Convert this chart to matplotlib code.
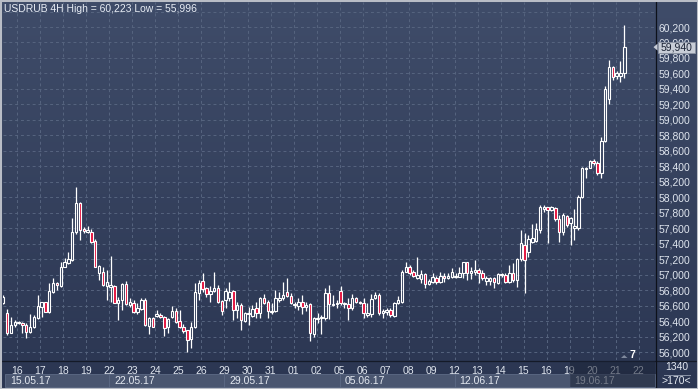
import numpy as np
import matplotlib
matplotlib.use('Agg')
import matplotlib.pyplot as plt
from matplotlib.patches import Rectangle, Polygon
from matplotlib.lines import Line2D
from matplotlib.transforms import blended_transform_factory

plt.rcParams['font.family'] = ['Liberation Sans', 'DejaVu Sans']

# ---- data (USDRUB, 4H candles, 15.05.17 - 21.06.17) ----
opens = [56629, 56500, 56242, 56349, 56371, 56379, 56349, 56255, 56328, 56435,
         56586, 56642, 56522, 56780, 56888, 56853, 57103, 57146, 57189, 57555,
         57921, 57585, 57555, 57555, 57439, 57025, 57038, 56853, 56845, 56858,
         56629, 56672, 56875, 56612, 56629, 56522, 56552, 56672, 56341, 56435,
         56470, 56479, 56457, 56319, 56448, 56534, 56401, 56328, 56285, 56164,
         56328, 56767, 56918, 56823, 56746, 56789, 56823, 56660, 56673, 56694,
         56789, 56543, 56608, 56401, 56487, 56466, 56565, 56500, 56694, 56642,
         56522, 56530, 56673, 56694, 56772, 56729, 56608, 56599, 56642, 56586,
         56617, 56229, 56423, 56436, 56436, 56759, 56608, 56617, 56789, 56617,
         56617, 56565, 56694, 56629, 56629, 56479, 56487, 56694, 56737, 56500,
         56513, 56543, 56466, 56638, 56651, 57039, 57095, 57030, 56952, 56940,
         57009, 56875, 56905, 56952, 56909, 56983, 56952, 56974, 56965, 56974,
         57017, 57159, 57017, 57039, 57060, 57026, 56922, 56922, 56952, 56897,
         56996, 56996, 56909, 57017, 56931, 57198, 57380, 57297, 57427, 57440,
         57577, 57853, 57870, 57836, 57857, 57715, 57556, 57758, 57663, 57599,
         57599, 57999, 58361, 58374, 58473, 58447, 58318, 58727, 59270, 59688,
         59567, 59567, 59610]
highs = [56737, 56552, 56457, 56414, 56405, 56392, 56371, 56491, 56479, 56737,
         56651, 56651, 56888, 56952, 56909, 57168, 57211, 57297, 57727, 58137,
         57943, 57620, 57628, 57585, 57460, 57125, 57103, 57060, 57241, 56866,
         56715, 56888, 56918, 56694, 56672, 56629, 56694, 56694, 56457, 56457,
         56543, 56500, 56466, 56435, 56595, 56565, 56543, 56362, 56285, 56392,
         56888, 56931, 57017, 56845, 56858, 57039, 56866, 56673, 56823, 56909,
         56802, 56651, 56629, 56522, 56586, 56608, 56651, 56716, 56746, 56673,
         56629, 56802, 56772, 56909, 56953, 56759, 56651, 56694, 56737, 56651,
         56629, 56457, 56500, 56479, 56832, 56866, 56737, 56673, 56858, 56651,
         56703, 56746, 56716, 56660, 56694, 56629, 56746, 56772, 56759, 56556,
         56565, 56574, 56651, 56724, 57060, 57168, 57125, 57060, 57224, 57060,
         57026, 56940, 57017, 56983, 57039, 57017, 57026, 57082, 57017, 57103,
         57159, 57168, 57103, 57189, 57082, 57060, 56983, 56965, 56974, 57017,
         57017, 57017, 57125, 57146, 57211, 57577, 57543, 57513, 57655, 57672,
         57900, 57900, 57879, 57887, 57879, 57771, 57793, 57771, 57749, 57844,
         58029, 58387, 58395, 58482, 58490, 58473, 58783, 59438, 59774, 59696,
         59632, 59761, 60223]
lows = [56621, 56220, 56242, 56328, 56362, 56250, 56186, 56242, 56315, 56422,
        56457, 56522, 56509, 56767, 56801, 56845, 57094, 57137, 57180, 57525,
        57448, 57534, 57534, 57413, 57094, 56931, 56853, 56672, 56651, 56629,
        56414, 56543, 56608, 56586, 56500, 56491, 56543, 56336, 56229, 56328,
        56457, 56435, 56207, 56250, 56435, 56379, 56306, 56242, 55996, 56048,
        56306, 56672, 56780, 56716, 56651, 56780, 56629, 56479, 56565, 56660,
        56414, 56436, 56285, 56393, 56350, 56457, 56436, 56436, 56617, 56436,
        56487, 56513, 56651, 56673, 56716, 56617, 56574, 56543, 56487, 56530,
        56143, 56199, 56371, 56229, 56414, 56427, 56599, 56574, 56608, 56565,
        56414, 56543, 56629, 56617, 56436, 56457, 56457, 56686, 56479, 56436,
        56479, 56448, 56448, 56621, 56629, 57030, 56996, 56974, 56940, 56888,
        56823, 56866, 56888, 56879, 56888, 56909, 56940, 56952, 56952, 56965,
        56952, 56931, 56940, 56996, 56888, 56931, 56866, 56866, 56823, 56879,
        56974, 56888, 56897, 56909, 56845, 57181, 56768, 57233, 57405, 57427,
        57534, 57814, 57414, 57823, 57698, 57427, 57513, 57612, 57383, 57448,
        57577, 57986, 58245, 58374, 58417, 58288, 58245, 58710, 59201, 59515,
        59524, 59494, 59545]
closes = [56715, 56242, 56349, 56392, 56392, 56345, 56263, 56328, 56457, 56595,
          56642, 56522, 56789, 56888, 56862, 57103, 57159, 57198, 57555, 57921,
          57577, 57564, 57577, 57426, 57103, 57112, 56866, 56901, 56866, 56638,
          56672, 56875, 56616, 56642, 56522, 56565, 56672, 56349, 56435, 56328,
          56487, 56448, 56315, 56427, 56534, 56392, 56319, 56276, 56155, 56328,
          56780, 56896, 56810, 56746, 56789, 56832, 56651, 56530, 56789, 56780,
          56543, 56608, 56414, 56500, 56500, 56556, 56500, 56694, 56629, 56530,
          56530, 56694, 56703, 56737, 56729, 56629, 56617, 56651, 56586, 56608,
          56242, 56436, 56436, 56457, 56759, 56617, 56617, 56638, 56629, 56629,
          56565, 56703, 56651, 56651, 56500, 56500, 56681, 56737, 56500, 56530,
          56543, 56479, 56629, 56672, 57039, 57095, 57026, 56983, 56996, 57009,
          56879, 56918, 56965, 56909, 56983, 56952, 56983, 57039, 56983, 57026,
          57159, 57017, 57047, 57060, 57017, 56952, 56952, 56952, 56909, 57009,
          57009, 56909, 57017, 56931, 57198, 57405, 57190, 57457, 57470, 57586,
          57870, 57870, 57836, 57870, 57715, 57556, 57771, 57642, 57728, 57629,
          57999, 58374, 58374, 58473, 58439, 58318, 58727, 59399, 59679, 59558,
          59601, 59610, 59940]

day_labels = ['16', '17', '18', '19', '22', '23', '24', '25', '26', '29', '30', '31',
              '01', '02', '05', '06', '07', '08', '09', '12', '13', '14', '15', '16',
              '19', '20', '21', '22']
week_labels = ['15.05.17', '22.05.17', '29.05.17', '05.06.17', '12.06.17', '19.06.17']
price_ticks = list(range(56000, 60201, 200))
title = 'USDRUB 4H High = 60,223 Low = 55,996'
last_price = 59940
bar_count = '1340'
bars_shown = '>170<'

# ---- figure ----
W, H = 698, 389
fig = plt.figure(figsize=(W / 100, H / 100), dpi=100)
fig.patch.set_facecolor('#2f3a56')


def fx(x):
    return x / W


def fy(y):
    return 1 - y / H


# gradient background for the whole window
bg = fig.add_axes([0, 0, 1, 1], zorder=-5)
top_c = np.array([0x3f, 0x4c, 0x69]) / 255
bot_c = np.array([0x2b, 0x36, 0x52]) / 255
t = np.linspace(0, 1, 256)[:, None]
grad = (top_c * (1 - t) + bot_c * t)[:, None, :]
bg.imshow(grad, aspect='auto', extent=[0, 1, 0, 1], transform=bg.transAxes)
bg.set_axis_off()

ax = fig.add_axes([fx(3), fy(360), (655 - 3) / W, (360 - 2) / H])
ax.set_facecolor('none')

n = len(opens)
x = np.arange(1, n + 1) + 1.0       # candle positions, one unit per 4H bar
o = np.array(opens); h = np.array(highs); l = np.array(lows); c = np.array(closes)
up = c >= o
top = np.maximum(o, c); bot = np.minimum(o, c)

# grid
day_pos = [6 * (d + 1) - 0.3 for d in range(len(day_labels))]
for yv in price_ticks + [60400]:
    ax.axhline(yv, color='#56647f', lw=0.7, ls=(0, (3, 3)), zorder=1)
for xv in day_pos:
    ax.axvline(xv, color='#56647f', lw=0.7, ls=(0, (3, 3)), zorder=1)

# candles
ax.vlines(x, top, h, color='white', lw=0.9, zorder=3)
ax.vlines(x, l, bot, color='white', lw=0.9, zorder=3)
body = np.maximum(top - bot, 6)
ax.bar(x[up], body[up], bottom=bot[up], width=0.62, facecolor='none',
       edgecolor='white', lw=0.8, zorder=4)
ax.bar(x[~up], body[~up], bottom=bot[~up], width=0.62, facecolor='#e3103c',
       edgecolor='white', lw=0.8, zorder=4)

ax.set_xlim(1.92, 172.0)
ax.set_ylim(55898, 60523)

ax.yaxis.tick_right()
ax.set_yticks(price_ticks, [f'{v:,}' for v in price_ticks])
ax.set_xticks(day_pos, day_labels)
ax.tick_params(axis='both', length=0, colors='#dfe5ee', labelsize=7.5)
ax.tick_params(axis='y', pad=2.6)
ax.tick_params(axis='x', pad=4.2)
for s in ax.spines.values():
    s.set_visible(False)

# title
fig.text(fx(4), fy(8.5), title, ha='left', va='center', fontsize=7.5, color='#e8edf5')

# separators
fig.add_artist(Line2D([fx(0), fx(698)], [fy(360.5), fy(360.5)], color='#141a28', lw=0.9))
fig.add_artist(Line2D([fx(655.5), fx(655.5)], [fy(0), fy(387)], color='#0d111a', lw=0.9))

# week boxes under the day labels
bt = blended_transform_factory(ax.transData, fig.transFigure)
week_starts = [2.4] + [6 * d - 0.3 for d in (5, 10, 15, 20, 25)]
week_ends = week_starts[1:] + [172.0]
for ws, we, lab in zip(week_starts, week_ends, week_labels):
    fig.add_artist(Rectangle((ws, fy(387)), we - ws, (387 - 374) / H, transform=bt,
                             facecolor='#4a5670', edgecolor='#5d6a85', lw=0.6, zorder=1))
    fig.text(0, fy(380.5), lab, transform=bt + matplotlib.transforms.ScaledTranslation(5 / 100, 0, fig.dpi_scale_trans),
             ha='left', va='center', fontsize=7.5, color='#e3e8f0', zorder=2)
    fig.texts[-1].set_x(ws)

# darker area for the current week on the time axis
fig.add_artist(Rectangle((week_starts[-1], fy(387)), 172.0 - week_starts[-1], (387 - 361) / H,
                         transform=bt, facecolor='#1b2336', alpha=0.55, lw=0, zorder=3))

# last price tag
pt = blended_transform_factory(fig.transFigure, ax.transData)
fig.add_artist(Rectangle((fx(657.5), last_price - 70), (695 - 657.5) / W, 140, transform=pt,
                         facecolor='#c8cdd7', edgecolor='#8d95a5', lw=0.6, zorder=4))
fig.add_artist(Polygon([[fx(653.5), last_price], [fx(657.5), last_price + 45],
                        [fx(657.5), last_price - 45]], closed=True, transform=pt,
                       facecolor='#c8cdd7', edgecolor='none', zorder=4))
fig.text(fx(676.5), last_price, f'{last_price:,}', transform=pt, ha='center', va='center',
         fontsize=7.5, color='#1a2234', zorder=5)

# small marker at the bottom right of the chart
fig.add_artist(Polygon([[fx(621), fy(358)], [fx(627.5), fy(358)], [fx(624.2), fy(355)]],
                       closed=True, facecolor='#7f899d', edgecolor='none', zorder=4))
fig.text(fx(632.5), fy(355), '7', ha='center', va='center', fontsize=7.5,
         color='white', fontweight='bold', zorder=5)

# bar counter box
fig.text(fx(677), fy(367), bar_count, ha='center', va='center', fontsize=7.5, color='#e3e8f0')
fig.add_artist(Line2D([fx(664), fx(690)], [fy(374.5), fy(374.5)], color='#8a93a6', lw=0.7))
fig.text(fx(676), fy(381.5), bars_shown, ha='center', va='center', fontsize=7.5, color='#e3e8f0')

# window frame
fig.add_artist(Rectangle((0, 0), 1, 1, transform=fig.transFigure, facecolor='none',
                         edgecolor='#b9bdc6', lw=2.2, zorder=10))

fig.savefig('out.png', dpi=100, facecolor=fig.get_facecolor())
